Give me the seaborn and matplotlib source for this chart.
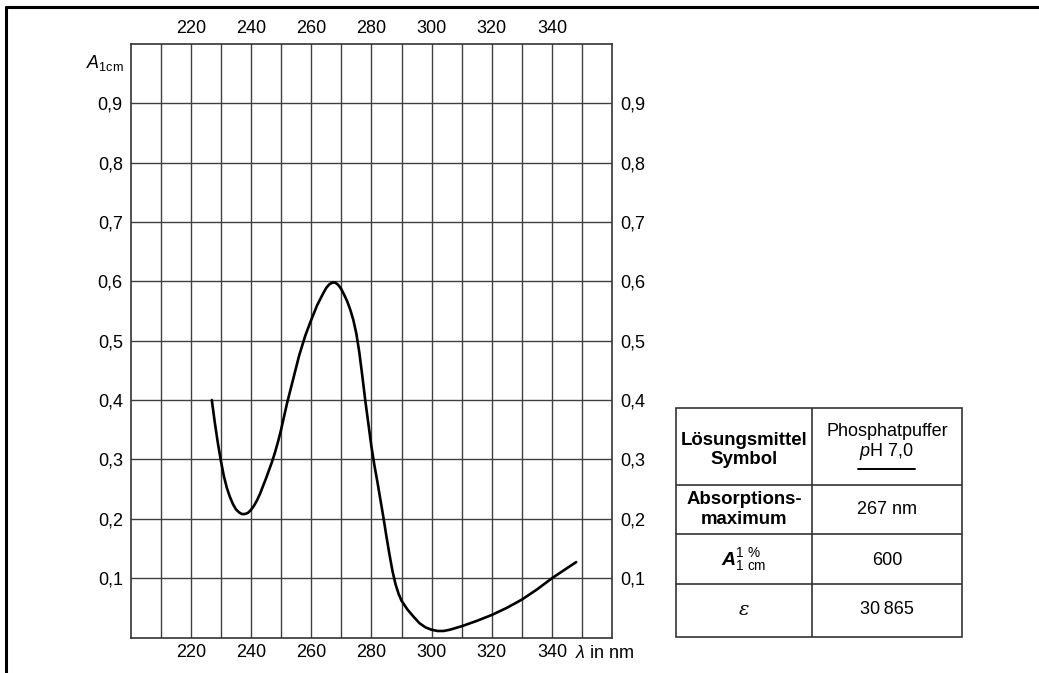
import matplotlib
matplotlib.use("Agg")
import matplotlib.pyplot as plt
import seaborn as sns
import pandas as pd
from matplotlib.lines import Line2D
from matplotlib.patches import Rectangle

# ---------------- data ----------------
wavelength_nm = [227, 228, 229, 230, 231, 232, 233, 234, 235, 236, 237, 238, 239, 240,
                 241, 242, 243, 244, 245, 246, 247, 248, 249, 250, 252, 254, 256, 258,
                 260, 262, 264, 265, 266, 267, 268, 269, 270, 271, 272, 273, 274, 275,
                 276, 277, 278, 279, 280, 281, 282, 283, 284, 285, 286, 287, 288, 289,
                 290, 292, 294, 296, 298, 300, 302, 304, 306, 308, 310, 315, 320, 325,
                 330, 335, 340, 345, 348]
absorbance = [0.400, 0.362, 0.328, 0.298, 0.272, 0.252, 0.237, 0.225, 0.216, 0.211, 0.208,
              0.208, 0.210, 0.215, 0.222, 0.231, 0.242, 0.255, 0.268, 0.282, 0.296, 0.312,
              0.330, 0.350, 0.395, 0.435, 0.475, 0.508, 0.535, 0.560, 0.580, 0.589, 0.595,
              0.598, 0.598, 0.594, 0.587, 0.577, 0.566, 0.552, 0.535, 0.512, 0.480, 0.440,
              0.398, 0.360, 0.322, 0.290, 0.262, 0.232, 0.202, 0.170, 0.140, 0.112, 0.090,
              0.074, 0.062, 0.047, 0.035, 0.024, 0.017, 0.013, 0.011, 0.011, 0.013, 0.016,
              0.019, 0.028, 0.038, 0.050, 0.064, 0.081, 0.100, 0.117, 0.127]

x_grid_ticks = [210, 220, 230, 240, 250, 260, 270, 280, 290, 300, 310, 320, 330, 340, 350]
x_label_ticks = [220, 240, 260, 280, 300, 320, 340]
y_ticks = [0.1, 0.2, 0.3, 0.4, 0.5, 0.6, 0.7, 0.8, 0.9]
y_tick_labels = ["0,1", "0,2", "0,3", "0,4", "0,5", "0,6", "0,7", "0,8", "0,9"]

table_left_col = ["Lösungsmittel\nSymbol", "Absorptions-\nmaximum",
                  r"$\mathbfit{A}_{1\ \mathrm{cm}}^{1\ \%}$", "ε"]
table_solvent = ["Phosphatpuffer", r"$\mathit{p}$H 7,0"]
table_values = ["267 nm", "600", "30\u2009865"]

# ---------------- style ----------------
sns.set_style("white")
plt.rcParams["font.family"] = ["Liberation Sans", "DejaVu Sans"]
plt.rcParams["text.color"] = "black"
plt.rcParams["xtick.color"] = "black"
plt.rcParams["ytick.color"] = "black"
plt.rcParams["xtick.labelcolor"] = "black"
plt.rcParams["ytick.labelcolor"] = "black"
plt.rcParams["mathtext.fontset"] = "custom"
plt.rcParams["mathtext.rm"] = "Liberation Sans"
plt.rcParams["mathtext.it"] = "Liberation Sans:italic"
plt.rcParams["mathtext.bf"] = "Liberation Sans:bold"
try:
    plt.rcParams["mathtext.bfit"] = "Liberation Sans:italic:bold"
except KeyError:
    pass

W, H = 1039, 673
FS = 13.0
FSB = 13.4
GRID_C = "#404040"

fig = plt.figure(figsize=(W / 100, H / 100), dpi=100)
ax = fig.add_axes([130.5 / W, 1 - 637.5 / H, 481.8 / W, 593.5 / H])

df = pd.DataFrame({"wavelength": wavelength_nm, "A": absorbance})
sns.lineplot(data=df, x="wavelength", y="A", ax=ax, color="black", linewidth=1.9)

ax.set_xlim(200, 360)
ax.set_ylim(0, 1.0)
ax.set_xticks(x_grid_ticks)
ax.set_xticklabels([str(t) if t in x_label_ticks else "" for t in x_grid_ticks])
ax.set_yticks(y_ticks)
ax.set_yticklabels(y_tick_labels)
ax.set_xlabel("")
ax.set_ylabel("")
ax.tick_params(axis="both", length=0, labelsize=FS, labelcolor="black")
ax.tick_params(axis="x", top=True, labeltop=True, pad=5)
ax.tick_params(axis="y", right=True, labelright=True, pad=5.5)
ax.grid(True, color=GRID_C, linewidth=1.0)
for s in ax.spines.values():
    s.set_visible(True)
    s.set_color("#333333")
    s.set_linewidth(1.2)

ax.annotate(r"$A_{\mathrm{1cm}}$", xy=(0, 0.968), xycoords=("axes fraction", "data"),
            xytext=(-5, 0), textcoords="offset points", ha="right", va="center",
            fontsize=FS, color="black")
ax.annotate(r"$\lambda$ in nm", xy=(347.6, 0), xycoords=("data", "axes fraction"),
            xytext=(0, -11.3), textcoords="offset points", ha="left", va="center",
            fontsize=FS, color="black")

# ---------------- table ----------------
tw, th = 286.0, 229.3
tab = fig.add_axes([676 / W, 1 - 637 / H, tw / W, th / H])
tab.set_xlim(0, tw)
tab.set_ylim(th, 0)
tab.axis("off")
TC = "#333333"
tab.add_patch(Rectangle((0, 0), tw, th, fill=False, ec=TC, lw=1.2, clip_on=False))
col_div = 135.7
row_divs = [77.3, 126.3, 176.3]
tab.plot([col_div, col_div], [0, th], color=TC, lw=1.2)
for r in row_divs:
    tab.plot([0, tw], [r, r], color=TC, lw=1.2)

c1 = col_div / 2
c2 = (col_div + tw) / 2
tab.text(c1, 42.3, table_left_col[0], ha="center", va="center", fontsize=FSB,
         fontweight="bold", linespacing=1.2)
tab.text(c1, 102.0, table_left_col[1], ha="center", va="center", fontsize=FSB,
         fontweight="bold", linespacing=1.2)
tab.text(c1, 152.3, table_left_col[2], ha="center", va="center", fontsize=FS + 1)
tab.text(c1, 202.3, table_left_col[3], ha="center", va="center", fontsize=FS + 1,
         family=["DejaVu Serif"], style="italic")

tab.text(c2, 24.0, table_solvent[0], ha="center", va="center", fontsize=FS)
tab.text(c2, 44.0, table_solvent[1], ha="center", va="center", fontsize=FS)
tab.plot([182.3, 239.0], [61.6, 61.6], color="black", lw=1.4)
tab.text(c2, 102.3, table_values[0], ha="center", va="center", fontsize=FS)
tab.text(c2, 153.0, table_values[1], ha="center", va="center", fontsize=FS)
tab.text(c2, 202.3, table_values[2], ha="center", va="center", fontsize=FS)

# ---------------- page frame (top and left rules) ----------------
fig.add_artist(Line2D([6 / W, 1], [1 - 7 / H, 1 - 7 / H], color="black", lw=2.2,
                      transform=fig.transFigure))
fig.add_artist(Line2D([6 / W, 6 / W], [0, 1 - 7 / H], color="black", lw=2.2,
                      transform=fig.transFigure))

fig.savefig("out.png", dpi=100)
